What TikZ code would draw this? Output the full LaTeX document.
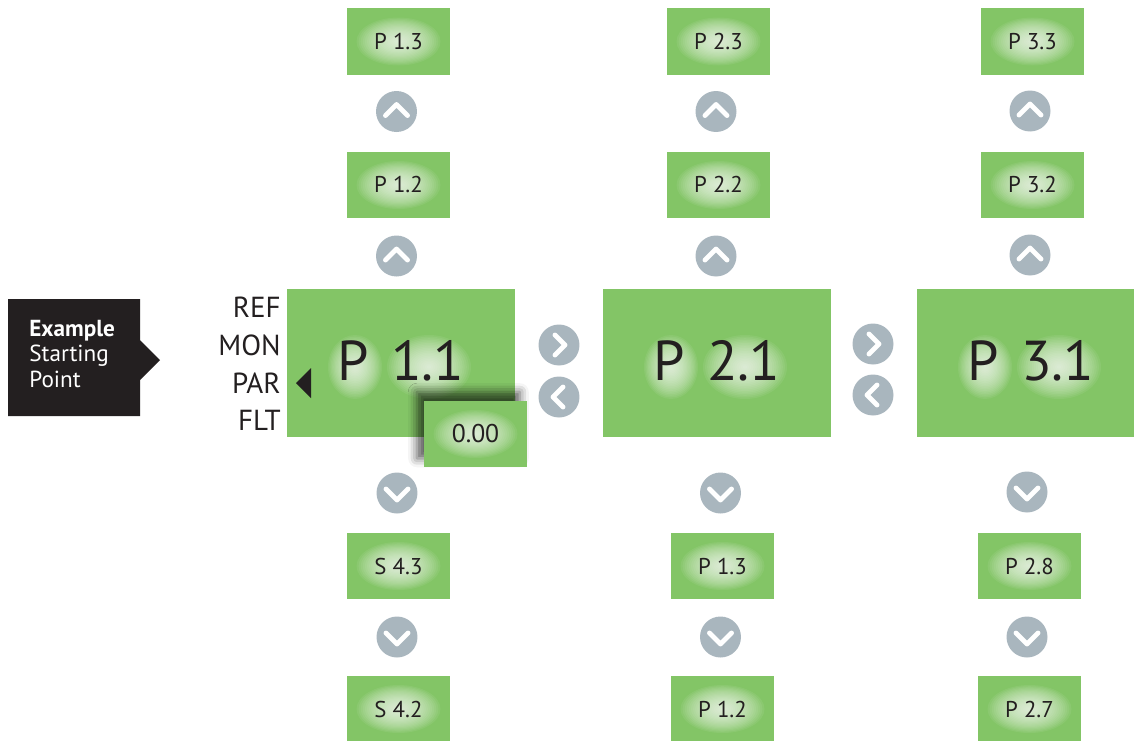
\documentclass[tikz,border=0pt]{standalone}
\usepackage{fontspec}
\setmainfont{PT Sans}
\usepackage{xcolor}
\usetikzlibrary{shadows.blur}
\definecolor{lcdgreen}{HTML}{83C566}
\definecolor{btngray}{HTML}{A9B6BE}
\definecolor{inkblack}{HTML}{231F20}

% soft light patch behind display text (x/y shift, x/y radius)
\newcommand{\blob}[4]{%
  \foreach \k in {1,...,20}{\fill[white,fill opacity=0.065]
    ([shift={(#1,#2)}]path picture bounding box.center)
    ellipse [x radius={#3*\k/20},y radius={#4*\k/20}];}}
% chevron inside a button
\newcommand{\chev}[6]{\draw[chevron]
  ([shift={(#1,#2)}]path picture bounding box.center) --
  ([shift={(#3,#4)}]path picture bounding box.center) --
  ([shift={(#5,#6)}]path picture bounding box.center);}

\begin{document}
\begin{tikzpicture}[
  x=0.02cm,y=-0.02cm,
  lcd/.style={fill=lcdgreen,inner sep=0pt,text=inkblack},
  smallbox/.style={lcd,minimum width=2.06cm,minimum height=1.33cm,font=\fontsize{13}{15}\selectfont,
    path picture={\blob{0}{0}{42}{24}}},
  bigbox/.style={lcd,minimum width=4.56cm,minimum height=2.96cm,text depth=3.4pt,font=\fontsize{32}{36}\selectfont,
    path picture={\blob{-46}{4}{27}{32}\blob{28}{4}{42}{32}}},
  valbox/.style={smallbox,font=\fontsize{14.6}{17}\selectfont,
    blur shadow={shadow xshift=-4pt,shadow yshift=5pt,shadow blur radius=5pt,shadow opacity=65}},
  menu/.style={anchor=east,inner sep=0pt,text=inkblack,font=\fontsize{16.5}{19}\selectfont},
  starttext/.style={anchor=west,align=left,inner sep=0pt,text=white,font=\fontsize{13.2}{14.7}\selectfont},
  btn/.style={circle,fill=btngray,minimum size=0.82cm,inner sep=0pt},
  chevron/.style={white,line width=2.8pt,line cap=round,line join=round},
  upbtn/.style={btn,path picture={\chev{-11}{4}{0}{-7}{11}{4}}},
  downbtn/.style={btn,path picture={\chev{-11}{-4}{0}{7}{11}{-4}}},
  rightbtn/.style={btn,path picture={\chev{-4}{-10}{6}{0}{-4}{10}}},
  leftbtn/.style={btn,path picture={\chev{4}{-10}{-6}{0}{4}{10}}}
]
\useasboundingbox (0,0) rectangle (1134,741);

% starting point callout
\fill[inkblack] (8,299) -- (140,299) -- (140,340) -- (160,360) -- (140,380) -- (140,416) -- (8,416) -- cycle;
\node[starttext] (start) at (29,354) {\textbf{Example}\\Starting\\Point};

% menu levels
\node[menu] (lref) at (281,307) {REF};
\node[menu] (lmon) at (281,345) {MON};
\node[menu] (lpar) at (281,383) {PAR};
\node[menu] (lflt) at (281,420) {FLT};

% main displays
\node[bigbox] (big1) at (401,363) {P\hspace{0.4em}1.1};
\node[bigbox] (big2) at (717,363) {P\hspace{0.4em}2.1};
\node[bigbox] (big3) at (1031,363) {P\hspace{0.4em}3.1};
\fill[inkblack] (311,368) -- (296,383) -- (311,398) -- cycle;
\node[valbox] (val) at (475.5,434) {0.00};

% upper parameters
\node[smallbox] (p13) at (398.5,41.5) {P 1.3};
\node[smallbox] (p12) at (398.5,185) {P 1.2};
\node[smallbox] (p23) at (718.5,41.5) {P 2.3};
\node[smallbox] (p22) at (718.5,185) {P 2.2};
\node[smallbox] (p33) at (1032.5,41.5) {P 3.3};
\node[smallbox] (p32) at (1032.5,185) {P 3.2};

% lower parameters
\node[smallbox] (s43) at (398.5,566) {S 4.3};
\node[smallbox] (s42) at (398.5,709) {S 4.2};
\node[smallbox] (q13) at (722.5,566) {P 1.3};
\node[smallbox] (q12) at (722.5,709) {P 1.2};
\node[smallbox] (p28) at (1029.5,566) {P 2.8};
\node[smallbox] (p27) at (1029.5,709) {P 2.7};

% buttons
\node[upbtn] (up1a) at (396.5,111.5) {};
\node[upbtn] (up1b) at (396.5,256) {};
\node[upbtn] (up2a) at (716,111.5) {};
\node[upbtn] (up2b) at (716,256) {};
\node[upbtn] (up3a) at (1030,111) {};
\node[upbtn] (up3b) at (1030,255) {};
\node[downbtn] (dn1a) at (397,493) {};
\node[downbtn] (dn1b) at (397,637) {};
\node[downbtn] (dn2a) at (720.5,493) {};
\node[downbtn] (dn2b) at (720.5,637) {};
\node[downbtn] (dn3a) at (1027,492) {};
\node[downbtn] (dn3b) at (1027,637) {};
\node[rightbtn] (rt12) at (559,345) {};
\node[leftbtn] (lt12) at (559,397) {};
\node[rightbtn] (rt23) at (873,344) {};
\node[leftbtn] (lt23) at (873,395) {};
\end{tikzpicture}
\end{document}
